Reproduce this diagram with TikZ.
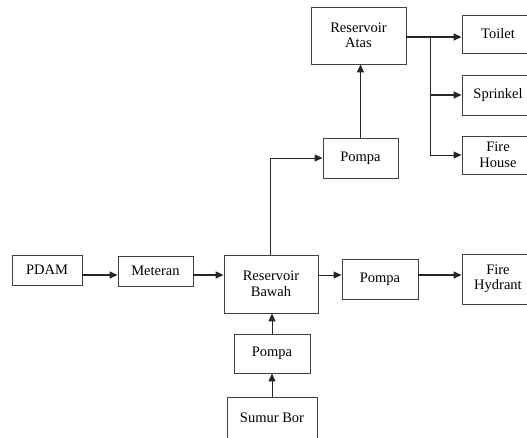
\documentclass[tikz,border=0pt]{standalone}
\usepackage{fontspec}
\setmainfont{Liberation Serif}
\usetikzlibrary{arrows.meta}
\begin{document}
\begin{tikzpicture}[x=1pt,y=-1pt,
  box/.style={draw=black!75,line width=0.9pt,rectangle,align=center,inner sep=0pt,
    font=\fontsize{14.5}{15.5}\selectfont,text=black},
  conn/.style={draw=black!85,line width=1pt,-{Triangle[length=8pt,width=7pt]}},
  thick conn/.style={conn,line width=1.4pt},
  plain/.style={draw=black!85,line width=1pt}]
\useasboundingbox (0,0) rectangle (527,437);
\node[box,minimum width=70pt,minimum height=30pt] (pdam) at (47,270) {PDAM};
\node[box,minimum width=75pt,minimum height=30pt] (met) at (155.5,271) {Meteran};
\node[box,minimum width=94pt,minimum height=58pt] (rb) at (271,284) {Reservoir\\Bawah};
\node[box,minimum width=76pt,minimum height=40pt] (pr) at (380,279) {Pompa};
\node[box,minimum width=72pt,minimum height=50pt] (fhy) at (498,279) {Fire\\Hydrant};
\node[box,minimum width=76pt,minimum height=39pt] (pb) at (272,353.5) {Pompa};
\node[box,minimum width=90pt,minimum height=42pt] (sb) at (272,418) {Sumur Bor};
\node[box,minimum width=75pt,minimum height=40pt] (pu) at (360.5,158) {Pompa};
\node[box,minimum width=95pt,minimum height=57pt] (ra) at (358.5,35.5) {Reservoir\\Atas};
\node[box,minimum width=72pt,minimum height=38pt] (toi) at (498,34) {Toilet};
\node[box,minimum width=72pt,minimum height=40pt] (spr) at (498,95) {Sprinkel};
\node[box,minimum width=72pt,minimum height=38pt] (fho) at (498,155) {Fire\\House};
\coordinate (row) at (0,275);
\coordinate (br) at (430,37);
\draw[thick conn] (pdam.east |- row) -- (met.west |- row);
\draw[thick conn] (met.east |- row) -- (rb.west |- row);
\draw[conn] (rb.east |- row) -- (pr.west |- row);
\draw[thick conn] (pr.east |- row) -- (fhy.west |- row);
\draw[conn] (sb.north -| pb.south) -- (pb.south);
\draw[conn] (pb.north) -- (pb.north |- rb.south);
\draw[conn] ([xshift=-1pt]rb.north) |- (pu.west);
\draw[thick conn] (pu.north) -- (pu.north |- ra.south);
\draw[thick conn] (ra.east |- br) -- (toi.west |- br);
\draw[plain] (br) -- (br |- fho.west);
\draw[thick conn] (br |- spr.west) -- (spr.west);
\draw[conn] (br |- fho.west) -- (fho.west);
\end{tikzpicture}
\end{document}
